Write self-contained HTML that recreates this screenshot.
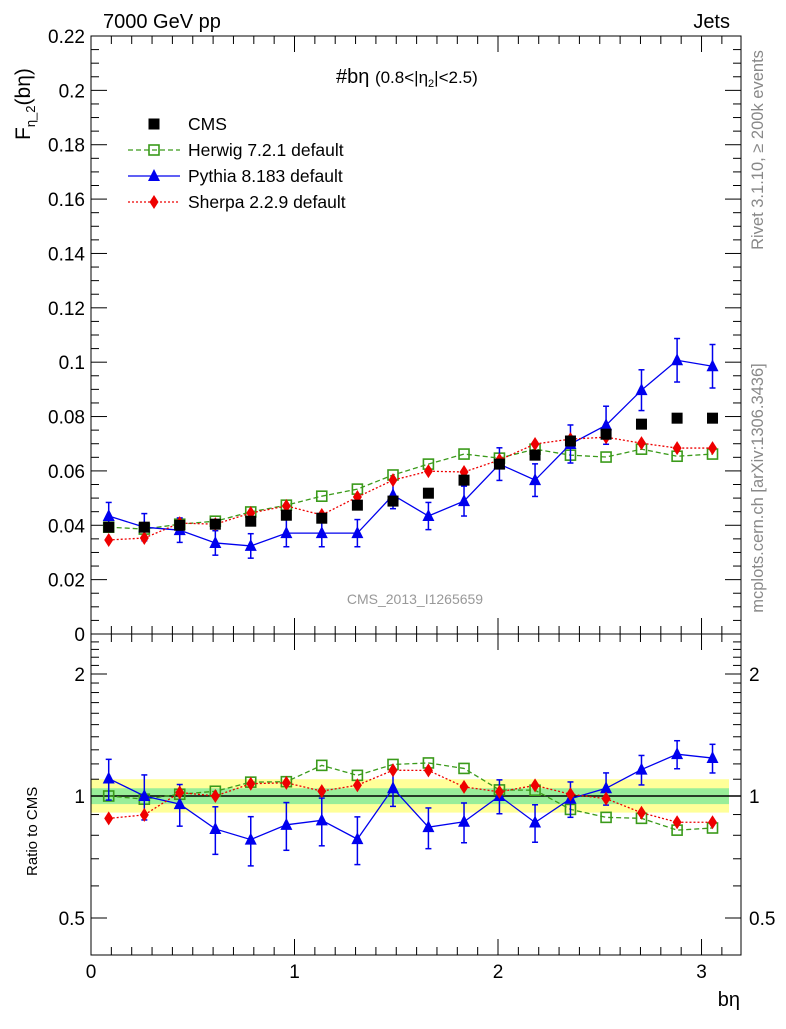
<!DOCTYPE html>
<html><head><meta charset="utf-8"><style>
body{margin:0;background:#fff;}
svg text{font-family:"Liberation Sans",Arial,sans-serif;}
</style></head><body>
<svg id="c" width="786" height="1024" xmlns="http://www.w3.org/2000/svg"></svg>
<script>
const xCenters=[0.087,0.262,0.436,0.611,0.785,0.960,1.134,1.309,1.484,1.658,1.833,2.007,2.182,2.356,2.531,2.705,2.880,3.054];
const cmsVals=[0.0393,0.0393,0.0400,0.0404,0.0415,0.0437,0.0426,0.0474,0.0489,0.0518,0.0566,0.0625,0.0658,0.0710,0.0735,0.0772,0.0794,0.0794];
const herwigVals=[0.0393,0.0386,0.0404,0.0415,0.0449,0.0474,0.0507,0.0533,0.0585,0.0625,0.0662,0.0647,0.0680,0.0658,0.0651,0.0680,0.0654,0.0662];
const pythiaVals=[0.0434,0.0393,0.0382,0.0335,0.0324,0.0371,0.0371,0.0371,0.0511,0.0434,0.0489,0.0625,0.0566,0.0699,0.0768,0.0897,0.1007,0.0985];
const pythiaErr=[0.0050,0.0050,0.0045,0.0045,0.0045,0.0050,0.0050,0.0050,0.0050,0.0050,0.0055,0.0060,0.0060,0.0070,0.0070,0.0075,0.0080,0.0080];
const sherpaVals=[0.0346,0.0353,0.0408,0.0404,0.0445,0.0471,0.0438,0.0504,0.0566,0.0599,0.0596,0.0640,0.0699,0.0717,0.0724,0.0702,0.0684,0.0684];
const yTicks=[0,0.02,0.04,0.06,0.08,0.1,0.12,0.14,0.16,0.18,0.2,0.22];
const yTickLabels=["0","0.02","0.04","0.06","0.08","0.1","0.12","0.14","0.16","0.18","0.2","0.22"];
const xTicks=[0,1,2,3];
const rTicks=[0.5,1,2];
const rTickLabels=["0.5","1","2"];

const NS="http://www.w3.org/2000/svg";
const svg=document.getElementById('c');
const L=91,R=741,T=36,MB=634,RB=955;
const xs=v=>L+v*(R-L)/3.194;
const ys=v=>MB-v*(MB-T)/0.22;
const rs=v=>796-Math.log2(v)*122;
function el(tag,attrs,parent){const e=document.createElementNS(NS,tag);for(const k in attrs)e.setAttribute(k,attrs[k]);(parent||svg).appendChild(e);return e;}
function txt(s,attrs){const e=el('text',attrs);e.textContent=s;return e;}

const band=el('g',{});


el('rect',{x:L,y:rs(1.10),width:R-L-12,height:rs(0.91)-rs(1.10),fill:'#ffff99'},band);
el('rect',{x:L,y:rs(1.045),width:R-L-12,height:rs(0.955)-rs(1.045),fill:'#99ee99'},band);
el('line',{x1:L,x2:R,y1:rs(1),y2:rs(1),stroke:'#000','stroke-width':1.5},band);

const f1=el('rect',{x:L,y:T,width:R-L,height:MB-T,fill:'none',stroke:'#000','stroke-width':1});

const f2=el('rect',{x:L,y:MB,width:R-L,height:RB-MB,fill:'none',stroke:'#000','stroke-width':1});


for(let v=0;v<=0.2201;v+=0.005){const y=ys(v);const maj=Math.abs(v/0.02-Math.round(v/0.02))<1e-6;const w=maj?16:8;
el('line',{x1:L,x2:L+w,y1:y,y2:y,stroke:'#000'});el('line',{x1:R,x2:R-w,y1:y,y2:y,stroke:'#000'});}
yTicks.forEach((v,i)=>{const t=txt(yTickLabels[i],{x:L-6,y:ys(v)+7,'text-anchor':'end','font-size':19});
});
for(let v=0;v<=3.19;v+=0.1){const maj=Math.abs(v-Math.round(v))<1e-6;const w=maj?16:8;const x=xs(v);
[[MB,-1],[RB,-1],[T,1],[MB,1]].forEach(([y,d])=>el('line',{x1:x,x2:x,y1:y,y2:y+d*w,stroke:'#000'}));}
xTicks.forEach(v=>{const t=txt(String(v),{x:xs(v),y:RB+23,'text-anchor':'middle','font-size':19});
});
for(let v=0.5;v<=2.5;v+=0.1){if(v<0.41)continue;const y=rs(v);const maj=rTicks.some(r=>Math.abs(r-v)<1e-6);const w=maj?16:8;
el('line',{x1:L,x2:L+w,y1:y,y2:y,stroke:'#000'});el('line',{x1:R,x2:R-w,y1:y,y2:y,stroke:'#000'});}
rTicks.forEach((v,i)=>{const a=txt(rTickLabels[i],{x:L-6,y:rs(v)+7,'text-anchor':'end','font-size':19});

const b=txt(rTickLabels[i],{x:R+8,y:rs(v)+7,'font-size':19});
});

let t=txt('7000 GeV pp',{x:103,y:28,'font-size':20});
t=txt('Jets',{x:730,y:28,'font-size':20,'text-anchor':'end'});
t=el('text',{x:0,y:0,'font-size':21,transform:'translate(30,140) rotate(-90)'});t.innerHTML='F<tspan font-size="13" dy="5">η_2</tspan><tspan dy="-5">(bη)</tspan>';

t=txt('Ratio to CMS',{x:0,y:0,'font-size':15,transform:'translate(37,876) rotate(-90)'});
t=txt('bη',{x:740,y:1006,'font-size':20,'text-anchor':'end'});
t=el('text',{x:336,y:83,'font-size':20});t.innerHTML='#bη <tspan font-size="17">(0.8&lt;|η</tspan><tspan font-size="11" dy="4">2</tspan><tspan font-size="17" dy="-4">|&lt;2.5)</tspan>';

t=txt('CMS_2013_I1265659',{x:415,y:604,'font-size':14,fill:'#999','text-anchor':'middle'});
t=txt('Rivet 3.1.10, ≥ 200k events',{x:0,y:0,'font-size':16.5,fill:'#888','text-anchor':'middle',transform:'translate(763,150) rotate(-90)'});
t=txt('mcplots.cern.ch [arXiv:1306.3436]',{x:0,y:0,'font-size':16.5,fill:'#888','text-anchor':'middle',transform:'translate(763,488) rotate(-90)'});

function marker(kind,x,y,g){
 if(kind==='sq')el('rect',{x:x-5.5,y:y-5.5,width:11,height:11,fill:'#000'},g);
 else if(kind==='osq')el('rect',{x:x-5,y:y-5,width:10,height:10,fill:'none',stroke:'#3a9a1a','stroke-width':1.6},g);
 else if(kind==='tri')el('polygon',{points:`${x},${y-7} ${x-6},${y+5} ${x+6},${y+5}`,fill:'#0000ee'},g);
 else el('polygon',{points:`${x},${y-7} ${x-4.5},${y} ${x},${y+7} ${x+4.5},${y}`,fill:'#ee0000'},g);
}
function series(name,vals,kind,color,dash,yfn,errs){
 const g=el('g',{});
 if(color){let p='';vals.forEach((v,i)=>{p+=(i?'L':'M')+xs(xCenters[i])+','+yfn(v,i);});
 el('path',{d:p,fill:'none',stroke:color,'stroke-width':1.3,'stroke-dasharray':dash||'none'},g);}
 if(errs)vals.forEach((v,i)=>{const x=xs(xCenters[i]);const y1=errs(v,i,1),y2=errs(v,i,-1);
 el('line',{x1:x,x2:x,y1:y1,y2:y2,stroke:color,'stroke-width':1.5},g);
 el('line',{x1:x-3,x2:x+3,y1:y1,y2:y1,stroke:color,'stroke-width':1.5},g);el('line',{x1:x-3,x2:x+3,y1:y2,y2:y2,stroke:color,'stroke-width':1.5},g);});
 vals.forEach((v,i)=>marker(kind,xs(xCenters[i]),yfn(v,i),g));
}
series('herwig-series',herwigVals,'osq','#3a9a1a','5,3',v=>ys(v));
series('pythia-series',pythiaVals,'tri','#0000ee',null,v=>ys(v),(v,i,d)=>ys(v+d*pythiaErr[i]));
series('sherpa-series',sherpaVals,'dia','#ee0000','2,2',v=>ys(v));
series('cms-series',cmsVals,'sq',null,null,v=>ys(v));
series('herwig-ratio',herwigVals,'osq','#3a9a1a','5,3',(v,i)=>rs(v/cmsVals[i]));
series('pythia-ratio',pythiaVals,'tri','#0000ee',null,(v,i)=>rs(v/cmsVals[i]),(v,i,d)=>rs(Math.max(0.3,(v+d*pythiaErr[i])/cmsVals[i])));
series('sherpa-ratio',sherpaVals,'dia','#ee0000','2,2',(v,i)=>rs(v/cmsVals[i]));

const lg=el('g',{});
const items=[['CMS','sq',null,null],['Herwig 7.2.1 default','osq','#3a9a1a','5,3'],['Pythia 8.183 default','tri','#0000ee',null],['Sherpa 2.2.9 default','dia','#ee0000','2,2']];
items.forEach((it,i)=>{const y=124+i*26;const g=el('g',{},lg);
 if(it[2])el('line',{x1:128,x2:180,y1:y,y2:y,stroke:it[2],'stroke-width':1.3,'stroke-dasharray':it[3]||'none'},g);
 marker(it[1],154,y,g);const tt=el('text',{x:188,y:y+6,'font-size':17.5},g);tt.textContent=it[0];});
</script>
</body></html>
